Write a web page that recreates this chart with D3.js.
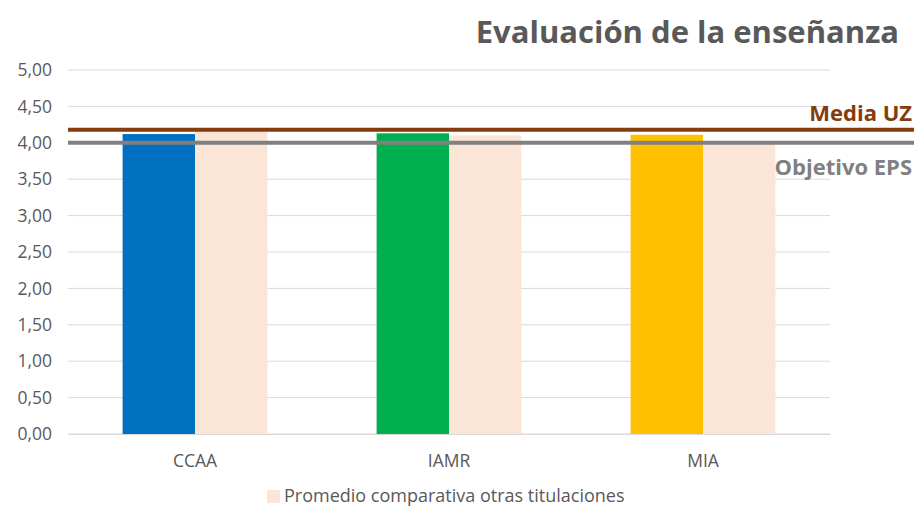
<!DOCTYPE html>
<html>
<head>
<meta charset="utf-8">
<script src="https://cdn.jsdelivr.net/npm/d3@7"></script>
<style>
  body { margin: 0; background: #fff; }
  svg { font-family: "Open Sans", sans-serif; }
</style>
</head>
<body>
<div id="chart"></div>
<script>
const width = 914,
  height = 508;

// data
const categories = ["CCAA", "IAMR", "MIA"];
const titulacion = [4.12, 4.13, 4.11];
const promedio = [4.18, 4.1, 3.98];
const barColors = ["#0070C0", "#00B050", "#FFC000"];
const mediaUZ = 4.18;
const objetivoEPS = 4.0;
const yTicks = [0, 0.5, 1, 1.5, 2, 2.5, 3, 3.5, 4, 4.5, 5];

const plotLeft = 68,
  plotRight = 830,
  plotTop = 70,
  plotBottom = 434;

const svg = d3
  .select("#chart")
  .append("svg")
  .attr("width", width)
  .attr("height", height);

const es = d3.formatLocale({ decimal: ",", thousands: ".", grouping: [3], currency: ["", "€"] });

const xScale = d3.scaleBand().domain(categories).range([plotLeft, plotRight]).paddingInner(0.43).paddingOuter(0.215);
const yScale = d3.scaleLinear().domain([0, 5]).range([plotBottom, plotTop]);

// grid
svg
  .append("g")
  .selectAll("line")
  .data(yTicks)
  .enter()
  .append("line")
  .attr("x1", plotLeft)
  .attr("x2", plotRight)
  .attr("y1", (d) => yScale(d))
  .attr("y2", (d) => yScale(d))
  .attr("stroke", "#d9d9d9")
  .attr("stroke-width", 1);

// y axis
const yAxis = d3.axisLeft(yScale).tickValues(yTicks).tickFormat(es.format(".2f")).tickSize(0).tickPadding(16);
const gy = svg.append("g").attr("transform", `translate(${plotLeft},0)`).call(yAxis);
gy.select(".domain").remove();
gy.selectAll("text").attr("fill", "#595959").style("font-size", "17.5px").style("font-family", "'Open Sans', sans-serif");

// x axis labels
const xAxis = d3.axisBottom(xScale).tickSize(0).tickPadding(21);
const gx = svg.append("g").attr("transform", `translate(0,${plotBottom})`).call(xAxis);
gx.select(".domain").attr("stroke", "#d9d9d9");
gx.selectAll("text").attr("fill", "#595959").style("font-size", "17.5px").style("font-family", "'Open Sans', sans-serif");

// bars
const bw = xScale.bandwidth() / 2;
svg
  .append("g")
  .selectAll("rect")
  .data(categories)
  .enter()
  .append("rect")
  .attr("x", (d) => xScale(d))
  .attr("y", (d, i) => yScale(titulacion[i]))
  .attr("width", bw)
  .attr("height", (d, i) => plotBottom - yScale(titulacion[i]))
  .attr("fill", (d, i) => barColors[i]);

svg
  .append("g")
  .selectAll("rect")
  .data(categories)
  .enter()
  .append("rect")
  .attr("x", (d) => xScale(d) + bw)
  .attr("y", (d, i) => yScale(promedio[i]))
  .attr("width", bw)
  .attr("height", (d, i) => plotBottom - yScale(promedio[i]))
  .attr("fill", "#FBE5D6");

// reference lines
svg
  .append("line")
  .attr("x1", plotLeft)
  .attr("x2", width)
  .attr("y1", yScale(mediaUZ))
  .attr("y2", yScale(mediaUZ))
  .attr("stroke", "#843C0C")
  .attr("stroke-width", 4);

svg
  .append("line")
  .attr("x1", plotLeft)
  .attr("x2", width)
  .attr("y1", yScale(objetivoEPS))
  .attr("y2", yScale(objetivoEPS))
  .attr("stroke", "#808080")
  .attr("stroke-width", 4);

svg
  .append("text")
  .attr("x", 912)
  .attr("y", 121)
  .attr("text-anchor", "end")
  .attr("fill", "#843C0C")
  .style("font-size", "22px")
  .style("font-weight", "bold")
  .text("Media UZ");

svg
  .append("text")
  .attr("x", 912)
  .attr("y", 175)
  .attr("text-anchor", "end")
  .attr("fill", "#808080")
  .style("font-size", "22px")
  .style("font-weight", "bold")
  .text("Objetivo EPS");

// title
svg
  .append("text")
  .attr("x", 899)
  .attr("y", 43)
  .attr("text-anchor", "end")
  .attr("fill", "#595959")
  .style("font-size", "31px")
  .style("font-weight", "bold")
  .text("Evaluación de la enseñanza");

// legend
svg.append("rect").attr("x", 267).attr("y", 490).attr("width", 13).attr("height", 13).attr("fill", "#FBE5D6");
svg
  .append("text")
  .attr("x", 284)
  .attr("y", 502)
  .attr("fill", "#595959")
  .style("font-size", "18px")
  .text("Promedio comparativa otras titulaciones");
</script>
</body>
</html>
